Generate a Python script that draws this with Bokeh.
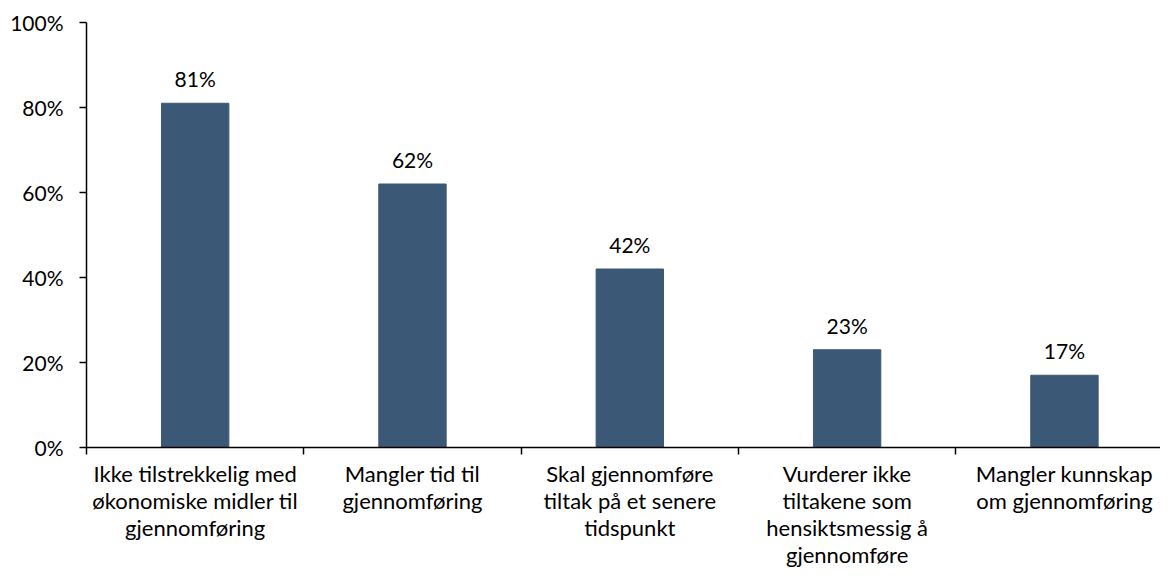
from bokeh.plotting import figure
from bokeh.models import Range1d, FixedTicker, NumeralTickFormatter, ColumnDataSource
from bokeh.core.properties import value
from bokeh.embed import file_html
from bokeh.resources import INLINE

categories = [
    "Ikke tilstrekkelig med\nøkonomiske midler til\ngjennomføring",
    "Mangler tid til\ngjennomføring",
    "Skal gjennomføre\ntiltak på et senere\ntidspunkt",
    "Vurderer ikke\ntiltakene som\nhensiktsmessig å\ngjennomføre",
    "Mangler kunnskap\nom gjennomføring",
]
values = [0.81, 0.62, 0.42, 0.23, 0.17]
value_labels = ["81%", "62%", "42%", "23%", "17%"]
y_ticks = [0, 0.2, 0.4, 0.6, 0.8, 1.0]

FONT = "Lato"
BAR = "#3B5876"

xs = [i + 0.5 for i in range(len(categories))]
src = ColumnDataSource(dict(x=xs, top=values, lab=value_labels))

p = figure(frame_width=1074, frame_height=425, output_backend="svg", toolbar_location=None,
           x_range=Range1d(0, 4.942), y_range=Range1d(0, 1.0),
           min_border_left=86, min_border_right=0, min_border_top=22, min_border_bottom=0)
p.outline_line_color = None
p.xgrid.visible = False
p.ygrid.visible = False
p.background_fill_color = "white"
p.border_fill_color = "white"

p.vbar(x="x", top="top", width=0.31, bottom=0, source=src, fill_color=BAR, line_color=BAR)
p.text(x="x", y="top", text="lab", source=src, text_align="center", text_baseline="bottom",
       y_offset=-12, text_font=value(FONT), text_font_size="21px", text_color="#000000")

# y axis
p.yaxis.ticker = FixedTicker(ticks=y_ticks)
p.yaxis.formatter = NumeralTickFormatter(format="0%")
p.yaxis.axis_line_color = "#000000"
p.yaxis.axis_line_width = 1.5
p.yaxis.major_tick_out = 7
p.yaxis.major_tick_in = 0
p.yaxis.major_tick_line_width = 1.5
p.yaxis.minor_tick_line_color = None
p.yaxis.major_label_text_font = FONT
p.yaxis.major_label_text_font_size = "21px"
p.yaxis.major_label_text_color = "#000000"
p.yaxis.major_label_standoff = 16

# x axis
p.xaxis.ticker = FixedTicker(ticks=xs, minor_ticks=[0, 1, 2, 3, 4, 5])
p.xaxis.major_label_overrides = {x: c for x, c in zip(xs, categories)}
p.xaxis.major_tick_line_color = None
p.xaxis.major_tick_out = 0
p.xaxis.major_tick_in = 0
p.xaxis.minor_tick_out = 7
p.xaxis.minor_tick_in = 0
p.xaxis.minor_tick_line_width = 1.5
p.xaxis.minor_tick_line_color = "#000000"
p.xaxis.axis_line_color = "#000000"
p.xaxis.axis_line_width = 1.5
p.xaxis.major_label_text_font = FONT
p.xaxis.major_label_text_font_size = "22px"
p.xaxis.major_label_text_color = "#000000"
p.xaxis.major_label_standoff = 5
p.xaxis.major_label_text_line_height = 1.0

open("out.html", "w").write(file_html(p, INLINE))
